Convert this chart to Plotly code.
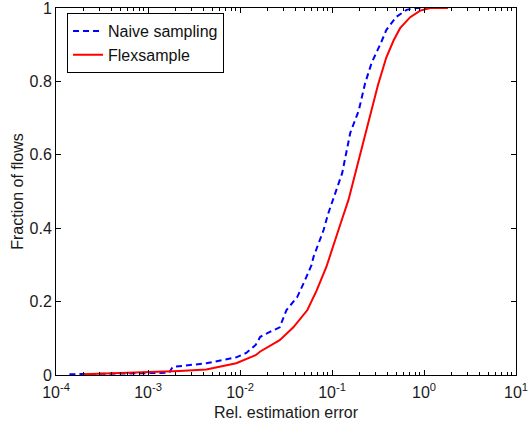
import plotly.graph_objects as go

naive_x = [1.4e-4, 1.0e-3, 1.7e-3, 1.85e-3, 2.3e-3, 4.3e-3, 9.1e-3, 1.17e-2, 1.48e-2, 1.66e-2,
           2.14e-2, 2.7e-2, 3.2e-2, 4.2e-2, 5.1e-2, 6.0e-2, 6.3e-2, 7.1e-2, 8.1e-2, 9.1e-2,
           0.102, 0.129, 0.158, 0.195, 0.229, 0.269, 0.339, 0.389, 0.501, 0.646, 0.83, 1.2]
naive_y = [0.002, 0.004, 0.006, 0.022, 0.025, 0.032, 0.048, 0.06, 0.082, 0.104,
           0.118, 0.13, 0.177, 0.213, 0.259, 0.30, 0.322, 0.359, 0.395, 0.44,
           0.477, 0.55, 0.66, 0.72, 0.795, 0.85, 0.904, 0.94, 0.976, 0.995, 1.0, 1.0]

flex_x = [1.95e-4, 1.0e-3, 2.2e-3, 4.3e-3, 9.1e-3, 1.48e-2, 1.66e-2, 2.7e-2, 3.8e-2, 5.4e-2,
          6.8e-2, 8.7e-2, 0.102, 0.123, 0.151, 0.2, 0.257, 0.316, 0.389, 0.468, 0.55,
          0.708, 0.91, 1.17, 1.82]
flex_y = [0.002, 0.007, 0.011, 0.015, 0.032, 0.054, 0.064, 0.095, 0.13, 0.177,
          0.23, 0.295, 0.35, 0.41, 0.477, 0.595, 0.70, 0.79, 0.865, 0.912, 0.945,
          0.975, 0.993, 1.0, 1.0]

x_ticks = [1e-4, 1e-3, 1e-2, 1e-1, 1e0, 1e1]
x_tick_labels = ["10<sup>-4</sup>", "10<sup>-3</sup>", "10<sup>-2</sup>",
                 "10<sup>-1</sup>", "10<sup>0</sup>", "10<sup>1</sup>"]
y_ticks = [0, 0.2, 0.4, 0.6, 0.8, 1]
y_tick_labels = ["0", "0.2", "0.4", "0.6", "0.8", "1"]

FONT = "Liberation Sans, Arial, Helvetica, sans-serif"

fig = go.Figure()
fig.add_trace(go.Scatter(x=naive_x, y=naive_y, mode="lines", name="Naive sampling",
                         line=dict(color="#0000ff", width=2, dash="6px,4px")))
fig.add_trace(go.Scatter(x=flex_x, y=flex_y, mode="lines", name="Flexsample",
                         line=dict(color="#ff0000", width=2)))

fig.update_layout(
    width=530, height=424,
    margin=dict(l=56, r=14, t=8, b=49),
    paper_bgcolor="white", plot_bgcolor="white",
    font=dict(family=FONT, size=16, color="#1a1a1a"),
    showlegend=True,
    legend=dict(x=0.024, y=0.986, xanchor="left", yanchor="top",
                bgcolor="white", bordercolor="black", borderwidth=1,
                font=dict(family=FONT, size=16, color="#111111"),
                tracegroupgap=0, itemwidth=30),
)
fig.update_xaxes(
    type="log", range=[-4, 1], tickvals=x_ticks, ticktext=x_tick_labels,
    showgrid=False, zeroline=False, automargin=False, ticklabeloverflow="allow",
    showline=True, linecolor="black", linewidth=1, mirror="ticks",
    ticks="inside", ticklen=5, tickcolor="black", ticklabelstandoff=3,
    minor=dict(ticks="inside", ticklen=3, tickcolor="black", dtick="D1", showgrid=False),
    title=dict(text="Rel. estimation error", font=dict(family=FONT, size=16), standoff=6),
    tickfont=dict(family=FONT, size=16),
)
fig.update_yaxes(
    range=[0, 1], tickvals=y_ticks, ticktext=y_tick_labels,
    showgrid=False, zeroline=False, automargin=False, ticklabeloverflow="allow",
    showline=True, linecolor="black", linewidth=1, mirror="ticks",
    ticks="inside", ticklen=5, tickcolor="black",
    title=dict(text="Fraction of flows", font=dict(family=FONT, size=16), standoff=1),
    tickfont=dict(family=FONT, size=16),
)

fig.write_html("out.html", config={"displayModeBar": False},
               post_script="document.body.style.margin='0';")
